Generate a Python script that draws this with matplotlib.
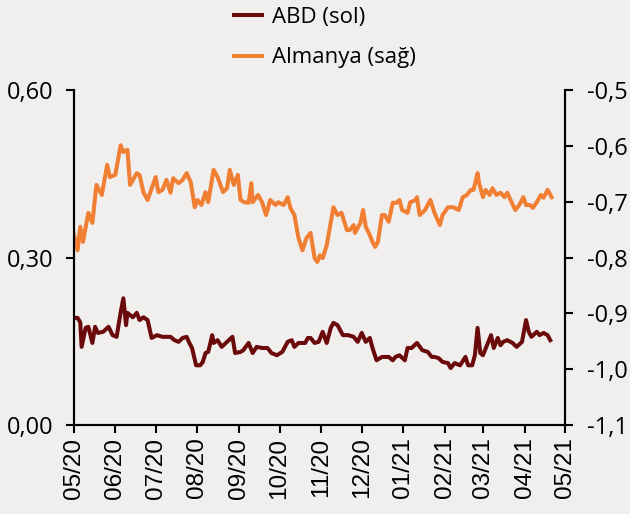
import matplotlib
matplotlib.use("Agg")
import matplotlib.pyplot as plt
import matplotlib.dates as mdates
from matplotlib.ticker import FixedLocator, FuncFormatter
import pandas as pd

start_date = "2020-05-01"
end_date = "2021-05-01"

# ABD (left axis) – days since start, value
abd_days = [0, 3, 5, 6, 9, 11, 14, 16, 18, 22, 26, 29, 32, 35, 37, 39, 40, 44, 47, 49,
            52, 55, 58, 62, 66, 69, 72, 75, 78, 81, 84, 86, 88, 91, 94, 96, 98, 100, 103, 104,
            107, 110, 114, 118, 120, 124, 126, 130, 133, 136, 140, 144, 147, 151, 155, 159, 162, 164, 167, 172,
            174, 176, 179, 182, 185, 188, 191, 193, 196, 200, 204, 208, 211, 214, 217, 220, 222, 225, 229, 234,
            237, 239, 242, 246, 248, 251, 255, 259, 263, 266, 268, 271, 274, 278, 280, 283, 287, 291, 293, 296,
            298, 300, 302, 304, 307, 310, 312, 315, 317, 319, 322, 326, 329, 333, 336, 338, 340, 344, 346, 349,
            352, 354]
abd_values = [0.192, 0.192, 0.184, 0.140, 0.174, 0.176, 0.147, 0.176, 0.165, 0.167, 0.176, 0.161, 0.158, 0.202, 0.227, 0.179, 0.201, 0.193, 0.201, 0.188,
              0.193, 0.188, 0.156, 0.161, 0.158, 0.158, 0.158, 0.152, 0.149, 0.156, 0.158, 0.147, 0.138, 0.107, 0.107, 0.113, 0.129, 0.131, 0.161, 0.147,
              0.152, 0.140, 0.149, 0.158, 0.129, 0.131, 0.134, 0.147, 0.129, 0.140, 0.138, 0.138, 0.129, 0.125, 0.131, 0.149, 0.152, 0.140, 0.147, 0.147,
              0.156, 0.156, 0.147, 0.149, 0.167, 0.147, 0.174, 0.183, 0.179, 0.161, 0.161, 0.158, 0.149, 0.165, 0.149, 0.156, 0.138, 0.116, 0.122, 0.122,
              0.116, 0.122, 0.125, 0.116, 0.138, 0.138, 0.147, 0.134, 0.131, 0.122, 0.122, 0.120, 0.113, 0.111, 0.102, 0.111, 0.107, 0.122, 0.107, 0.107,
              0.125, 0.174, 0.129, 0.125, 0.143, 0.161, 0.138, 0.156, 0.143, 0.149, 0.152, 0.147, 0.140, 0.149, 0.188, 0.167, 0.158, 0.167, 0.161, 0.165,
              0.161, 0.152]

# Almanya (right axis)
alm_days = [0, 3, 5, 7, 11, 14, 17, 21, 25, 27, 31, 35, 37, 40, 42, 47, 49, 52, 55, 61,
            63, 66, 69, 72, 74, 78, 81, 84, 87, 89, 90, 92, 95, 98, 100, 104, 107, 111, 114, 116,
            119, 122, 124, 127, 130, 132, 133, 137, 140, 143, 146, 150, 152, 156, 159, 161, 164, 167, 170, 173,
            176, 179, 181, 183, 185, 188, 193, 196, 199, 203, 205, 208, 209, 213, 215, 217, 220, 222, 224, 226,
            229, 231, 234, 237, 240, 242, 244, 248, 250, 254, 255, 257, 261, 264, 265, 268, 272, 274, 278, 282,
            286, 289, 292, 295, 297, 300, 301, 304, 306, 309, 311, 314, 317, 320, 322, 328, 331, 334, 336, 339,
            341, 344, 347, 349, 352, 355]
alm_values = [-0.756, -0.787, -0.745, -0.772, -0.720, -0.738, -0.670, -0.688, -0.634, -0.656, -0.652, -0.599, -0.611, -0.607, -0.670, -0.649, -0.652, -0.684, -0.697, -0.656,
              -0.683, -0.679, -0.661, -0.684, -0.658, -0.667, -0.661, -0.649, -0.665, -0.695, -0.710, -0.697, -0.706, -0.683, -0.701, -0.643, -0.656, -0.683, -0.676, -0.643,
              -0.670, -0.652, -0.697, -0.701, -0.702, -0.667, -0.701, -0.688, -0.701, -0.724, -0.697, -0.706, -0.701, -0.706, -0.692, -0.711, -0.724, -0.765, -0.787, -0.765,
              -0.756, -0.801, -0.808, -0.796, -0.801, -0.778, -0.710, -0.724, -0.720, -0.751, -0.751, -0.742, -0.756, -0.738, -0.715, -0.745, -0.760, -0.772, -0.781, -0.772,
              -0.724, -0.724, -0.736, -0.702, -0.702, -0.697, -0.715, -0.720, -0.701, -0.697, -0.692, -0.724, -0.715, -0.701, -0.697, -0.720, -0.742, -0.724, -0.710, -0.710,
              -0.715, -0.692, -0.688, -0.679, -0.679, -0.649, -0.665, -0.692, -0.679, -0.688, -0.676, -0.688, -0.684, -0.692, -0.684, -0.715, -0.706, -0.692, -0.706, -0.706,
              -0.711, -0.701, -0.688, -0.693, -0.679, -0.692]

left_ticks = [0.0, 0.30, 0.60]
right_ticks = [-1.1, -1.0, -0.9, -0.8, -0.7, -0.6, -0.5]
labels = ["ABD (sol)", "Almanya (sağ)"]

bg = "#f1efee"
c_abd = "#6b0a0a"
c_alm = "#f07f33"

plt.rcParams["font.family"] = ["Open Sans", "DejaVu Sans"]

fig = plt.figure(figsize=(6.3, 5.14), dpi=100, facecolor=bg)
ax = fig.add_axes([0.1167, 0.173, 0.7803, 0.652])
ax.set_facecolor(bg)
ax2 = ax.twinx()

t0 = pd.Timestamp(start_date)
abd_dates = t0 + pd.to_timedelta(abd_days, unit="D")
alm_dates = t0 + pd.to_timedelta(alm_days, unit="D")

l1, = ax.plot(abd_dates, abd_values, color=c_abd, lw=2.9, solid_joinstyle="round")
l2, = ax2.plot(alm_dates, alm_values, color=c_alm, lw=2.9, solid_joinstyle="round")

ax.set_xlim(pd.Timestamp(start_date), pd.Timestamp(end_date))
ax.set_ylim(0.0, 0.60)
ax2.set_ylim(-1.1, -0.5)

ax.xaxis.set_major_locator(mdates.MonthLocator())
ax.xaxis.set_major_formatter(mdates.DateFormatter("%m/%y"))
ax.tick_params(axis="x", labelsize=17.5, length=6, width=1.5, pad=3, direction="out",
               labelrotation=90)
for lab in ax.get_xticklabels():
    lab.set_family("Liberation Sans")

ax.yaxis.set_major_locator(FixedLocator(left_ticks))
ax.yaxis.set_major_formatter(FuncFormatter(lambda v, p: f"{v:.2f}".replace(".", ",")))
ax2.yaxis.set_major_locator(FixedLocator(right_ticks))
ax2.yaxis.set_major_formatter(FuncFormatter(lambda v, p: f"{v:.1f}".replace(".", ",")))
ax.tick_params(axis="y", labelsize=17, length=6, width=1.5, pad=8.5)
ax2.tick_params(axis="y", labelsize=17, length=6, width=1.5, pad=10)

for a in (ax, ax2):
    a.spines["top"].set_visible(False)
    for s in ("left", "right", "bottom"):
        a.spines[s].set_linewidth(1.5)
        a.spines[s].set_color("black")

leg = fig.legend([l1, l2], labels, loc="upper left", bbox_to_anchor=(0.339, 1.025),
                 frameon=False, fontsize=16, handlelength=1.3, handletextpad=0.45,
                 labelspacing=0.87)

fig.savefig("out.png", dpi=100, facecolor=bg)
